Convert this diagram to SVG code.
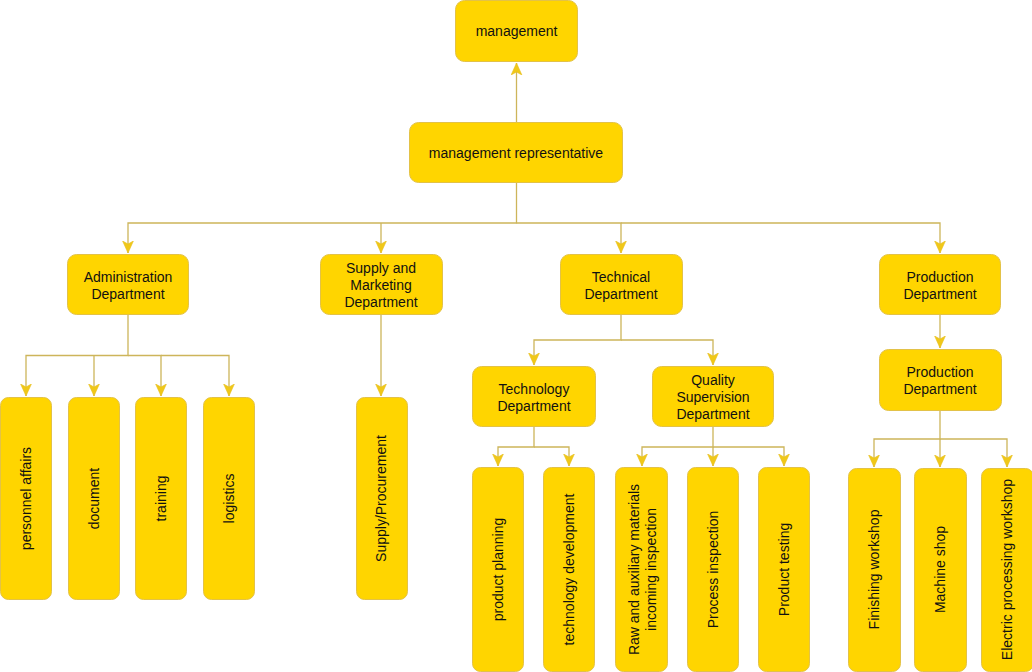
<svg xmlns="http://www.w3.org/2000/svg" width="1032" height="672" viewBox="0 0 1032 672">
<style>
.n rect{fill:#FFD500;stroke:#E3C247;stroke-width:1}
.n text{font-family:"Liberation Sans",Arial,sans-serif;font-size:14px;fill:#111;text-anchor:middle}
.c path{fill:none;stroke:#CDB55A;stroke-width:1.3}
</style>
<defs>
<marker id="a" markerUnits="userSpaceOnUse" markerWidth="12" markerHeight="12" viewBox="0 0 10 10" refX="10" refY="5" orient="auto">
<path d="M0,0.5 L10,5 L0,9.5 L2.5,5 Z" fill="#F0C818" stroke="#E8C020" stroke-width="0.5"/>
</marker>
</defs>
<rect width="1032" height="672" fill="#fff"/>
<g class="c">
<path d="M516.5,122 V63" marker-end="url(#a)"/>
<path d="M516.5,183 V223 H128 V253"  marker-end="url(#a)"/>
<path d="M381,223 V253" marker-end="url(#a)"/>
<path d="M516.5,223 H621 V253" marker-end="url(#a)"/>
<path d="M621,223 H940 V253" marker-end="url(#a)"/>
<path d="M128,315 V355.5 H26 V396" marker-end="url(#a)"/>
<path d="M94,355.5 V396" marker-end="url(#a)"/>
<path d="M128,355.5 H161 V396" marker-end="url(#a)"/>
<path d="M161,355.5 H229 V396" marker-end="url(#a)"/>
<path d="M381,315 V396" marker-end="url(#a)"/>
<path d="M621,315 V340 H534 V365" marker-end="url(#a)"/>
<path d="M621,340 H713 V365" marker-end="url(#a)"/>
<path d="M534,427 V447 H498 V466" marker-end="url(#a)"/>
<path d="M534,447 H569 V466" marker-end="url(#a)"/>
<path d="M713,427 V447 H642 V466" marker-end="url(#a)"/>
<path d="M713,447 V466" marker-end="url(#a)"/>
<path d="M713,447 H784 V466" marker-end="url(#a)"/>
<path d="M940,315 V348" marker-end="url(#a)"/>
<path d="M940,411 V439 H874 V467" marker-end="url(#a)"/>
<path d="M940,439 V467" marker-end="url(#a)"/>
<path d="M940,439 H1007 V467" marker-end="url(#a)"/>
</g>
<g id="management" class="n"><rect x="455.5" y="0.5" width="122" height="61" rx="9"/><text x="516.5" y="36">management</text></g>
<g id="rep" class="n"><rect x="409.5" y="122.5" width="213" height="60" rx="9"/><text x="516" y="158">management representative</text></g>
<g id="admin" class="n"><rect x="67.5" y="254.5" width="121" height="60" rx="9"/><text x="128" y="281.5">Administration</text><text x="128" y="298.5">Department</text></g>
<g id="supply" class="n"><rect x="320.5" y="254.5" width="122" height="60" rx="9"/><text x="381" y="273">Supply and</text><text x="381" y="290">Marketing</text><text x="381" y="307">Department</text></g>
<g id="technical" class="n"><rect x="560.5" y="254.5" width="122" height="60" rx="9"/><text x="621" y="281.5">Technical</text><text x="621" y="298.5">Department</text></g>
<g id="production" class="n"><rect x="879.5" y="254.5" width="121" height="60" rx="9"/><text x="940" y="281.5">Production</text><text x="940" y="298.5">Department</text></g>
<g id="personnel" class="n"><rect x="0.5" y="397.5" width="51" height="202" rx="8"/><text transform="translate(26,498.5) rotate(-90)" y="5">personnel affairs</text></g>
<g id="document" class="n"><rect x="68.5" y="397.5" width="51" height="202" rx="8"/><text transform="translate(94,498.5) rotate(-90)" y="5">document</text></g>
<g id="training" class="n"><rect x="135.5" y="397.5" width="51" height="202" rx="8"/><text transform="translate(161,498.5) rotate(-90)" y="5">training</text></g>
<g id="logistics" class="n"><rect x="203.5" y="397.5" width="51" height="202" rx="8"/><text transform="translate(229,498.5) rotate(-90)" y="5">logistics</text></g>
<g id="procurement" class="n"><rect x="356.5" y="397.5" width="51" height="202" rx="8"/><text transform="translate(381,498.5) rotate(-90)" y="5">Supply/Procurement</text></g>
<g id="technology" class="n"><rect x="472.5" y="366.5" width="123" height="60" rx="9"/><text x="534" y="393.5">Technology</text><text x="534" y="410.5">Department</text></g>
<g id="quality" class="n"><rect x="652.5" y="366.5" width="121" height="60" rx="9"/><text x="713" y="384.5">Quality</text><text x="713" y="401.5">Supervision</text><text x="713" y="418.5">Department</text></g>
<g id="planning" class="n"><rect x="472.5" y="467.5" width="51" height="204" rx="8"/><text transform="translate(498,569.5) rotate(-90)" y="5">product planning</text></g>
<g id="techdev" class="n"><rect x="543.5" y="467.5" width="51" height="204" rx="8"/><text transform="translate(569,569.5) rotate(-90)" y="5">technology development</text></g>
<g id="raw" class="n"><rect x="615.5" y="467.5" width="52" height="204" rx="8"/><text transform="translate(642,569.5) rotate(-90)" y="-3.5">Raw and auxiliary materials</text><text transform="translate(642,569.5) rotate(-90)" y="13.5">incoming inspection</text></g>
<g id="process" class="n"><rect x="687.5" y="467.5" width="51" height="204" rx="8"/><text transform="translate(713,569.5) rotate(-90)" y="5">Process inspection</text></g>
<g id="testing" class="n"><rect x="758.5" y="467.5" width="51" height="204" rx="8"/><text transform="translate(784,569.5) rotate(-90)" y="5">Product testing</text></g>
<g id="production2" class="n"><rect x="879.5" y="349.5" width="122" height="61" rx="9"/><text x="940" y="377">Production</text><text x="940" y="394">Department</text></g>
<g id="finishing" class="n"><rect x="848.5" y="468.5" width="52" height="203" rx="8"/><text transform="translate(874,569.5) rotate(-90)" y="5">Finishing workshop</text></g>
<g id="machine" class="n"><rect x="914.5" y="468.5" width="52" height="203" rx="8"/><text transform="translate(940,569.5) rotate(-90)" y="5">Machine shop</text></g>
<g id="electric" class="n"><rect x="981.5" y="468.5" width="52" height="203" rx="8"/><text transform="translate(1007,569.5) rotate(-90)" y="5">Electric processing workshop</text></g>
</svg>
